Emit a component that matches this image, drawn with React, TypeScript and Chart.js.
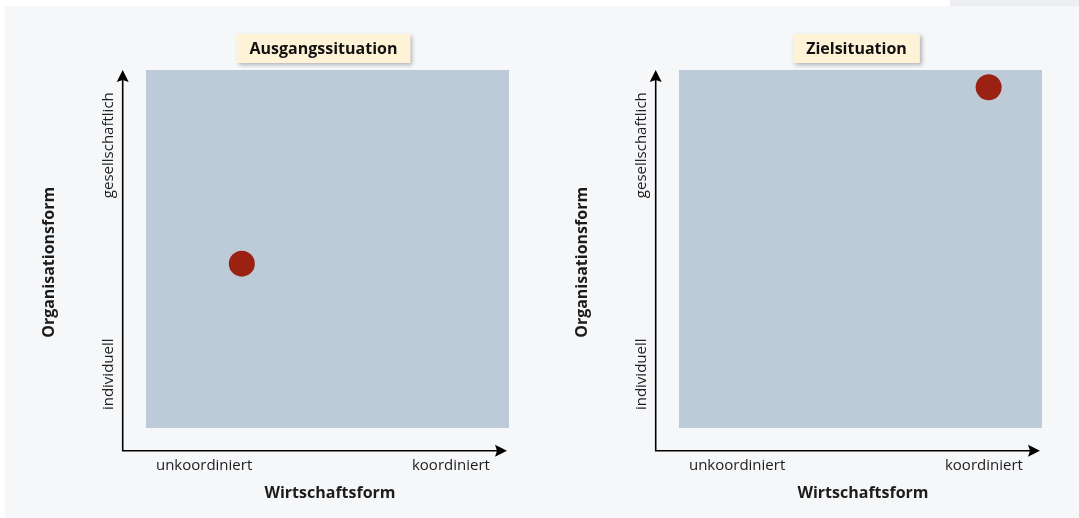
import React, { useEffect, useRef } from "react";
import { Chart, registerables } from "chart.js";

Chart.register(...registerables);

// ---- data ----
const panelTitles = ["Ausgangssituation", "Zielsituation"];
const xAxisTitle = "Wirtschaftsform";
const yAxisTitle = "Organisationsform";
const xTickLabels = ["unkoordiniert", "koordiniert"];
const xTickValues = [1.6, 8.4];
const yTickLabels = ["individuell", "gesellschaftlich"];
const yTickValues = [1.5, 7.9];
const pointX = [2.64, 8.53];
const pointY = [4.59, 9.52];

// ---- styles ----
const FONT = "'Open Sans', 'Noto Sans', sans-serif";
const TEXT_COLOR = "#1c1c1c";
const RECT_COLOR = "#bccbd7";
const POINT_COLOR = "#9b2213";
const BOX_COLOR = "#fef3d7";

function makeDecor(index: number) {
  return {
    id: "decor" + index,
    beforeDatasetsDraw(chart: any) {
      const { ctx, chartArea: a } = chart;
      ctx.save();
      ctx.fillStyle = RECT_COLOR;
      ctx.fillRect(a.left, a.top, a.right - a.left, a.bottom - a.top);
      ctx.restore();
    },
    afterDraw(chart: any) {
      const { ctx, chartArea: a, scales } = chart;
      const xs = scales.x;
      const ys = scales.y;
      ctx.save();
      // axes with arrows
      const ox = a.left - 23.3;
      const oy = a.bottom + 22.7;
      const topTip = a.top;
      const rightTip = a.right - 2;
      ctx.strokeStyle = "#000";
      ctx.fillStyle = "#000";
      ctx.lineWidth = 1.6;
      ctx.beginPath();
      ctx.moveTo(ox, topTip + 8);
      ctx.lineTo(ox, oy);
      ctx.lineTo(rightTip - 8, oy);
      ctx.stroke();
      ctx.beginPath();
      ctx.moveTo(ox, topTip);
      ctx.lineTo(ox + 6, topTip + 12);
      ctx.lineTo(ox, topTip + 10);
      ctx.lineTo(ox - 6, topTip + 12);
      ctx.closePath();
      ctx.fill();
      ctx.beginPath();
      ctx.moveTo(rightTip, oy);
      ctx.lineTo(rightTip - 12, oy - 6);
      ctx.lineTo(rightTip - 10, oy);
      ctx.lineTo(rightTip - 12, oy + 6);
      ctx.closePath();
      ctx.fill();

      // x tick labels
      ctx.fillStyle = TEXT_COLOR;
      ctx.font = `15px ${FONT}`;
      ctx.textAlign = "center";
      ctx.textBaseline = "alphabetic";
      xTickLabels.forEach((lab, i) => {
        ctx.fillText(lab, xs.getPixelForValue(xTickValues[i]), a.bottom + 42);
      });
      // y tick labels (rotated)
      yTickLabels.forEach((lab, i) => {
        ctx.save();
        ctx.translate(a.left - 33, ys.getPixelForValue(yTickValues[i]));
        ctx.rotate(-Math.PI / 2);
        ctx.fillText(lab, 0, 0);
        ctx.restore();
      });
      // axis titles
      ctx.font = `bold 16px ${FONT}`;
      ctx.fillText(xAxisTitle, (a.left + a.right) / 2 + 2.5, a.bottom + 70);
      ctx.save();
      ctx.translate(a.left - 92, (a.top + oy) / 2 + 2);
      ctx.rotate(-Math.PI / 2);
      ctx.fillText(yAxisTitle, 0, 0);
      ctx.restore();

      // panel title box
      const title = panelTitles[index];
      const cx = (a.left + a.right) / 2 - 4;
      const tw = ctx.measureText(title).width;
      const bw = tw + 26;
      const bx = cx - bw / 2;
      const by = a.top - 36;
      const bh = 29;
      ctx.save();
      ctx.shadowColor = "rgba(0,0,0,0.28)";
      ctx.shadowBlur = 4;
      ctx.shadowOffsetX = 2;
      ctx.shadowOffsetY = 2;
      ctx.fillStyle = BOX_COLOR;
      ctx.fillRect(bx, by, bw, bh);
      ctx.restore();
      ctx.fillStyle = "#111";
      ctx.fillText(title, cx, a.top - 16);
      ctx.restore();
    },
  };
}

function Panel({ index, left }: { index: number; left: number }) {
  const ref = useRef<HTMLCanvasElement>(null);
  useEffect(() => {
    const chart = new Chart(ref.current as HTMLCanvasElement, {
      type: "scatter",
      data: {
        datasets: [
          {
            data: [{ x: pointX[index], y: pointY[index] }],
            backgroundColor: POINT_COLOR,
            borderWidth: 0,
            pointRadius: 13,
            pointHoverRadius: 13,
          },
        ],
      },
      options: {
        responsive: false,
        animation: false,
        events: [],
        layout: { padding: { left: 146, right: 24, top: 70, bottom: 90 } },
        scales: {
          x: { type: "linear", min: 0, max: 10, display: false },
          y: { type: "linear", min: 0, max: 10, display: false },
        },
        plugins: { legend: { display: false }, tooltip: { enabled: false }, title: { display: false } },
      } as any,
      plugins: [makeDecor(index)],
    });
    return () => chart.destroy();
  }, [index]);
  return (
    <canvas
      ref={ref}
      width={533}
      height={518}
      style={{ position: "absolute", left, top: 0, width: 533, height: 518 }}
    />
  );
}

export default function App() {
  return (
    <div
      style={{
        position: "fixed",
        left: 0,
        top: 0,
        width: 1079,
        height: 518,
        background: "#ffffff",
        overflow: "hidden",
      }}
    >
      <div style={{ position: "absolute", left: 5, top: 6, right: 0, bottom: 0, background: "#f6f7f9" }} />
      <div style={{ position: "absolute", left: 950, top: 0, width: 129, height: 6, background: "#eceef2" }} />
      <Panel index={0} left={0} />
      <Panel index={1} left={533} />
    </div>
  );
}
